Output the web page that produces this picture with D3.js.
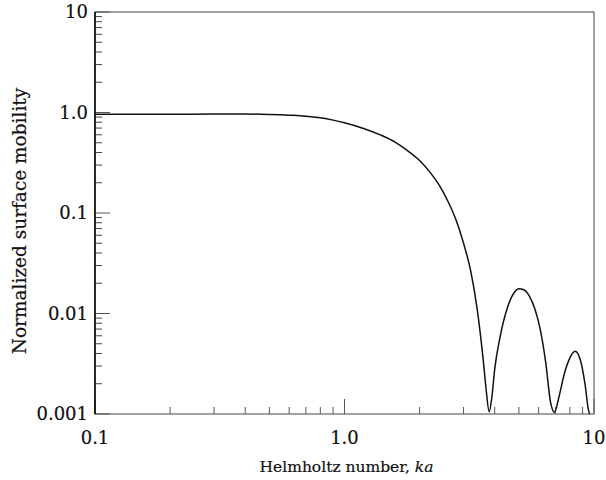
<!DOCTYPE html>
<html>
<head>
<meta charset="utf-8">
<script src="https://cdn.jsdelivr.net/npm/d3@7"></script>
<style>
  body { margin: 0; background: #fff; }
  text { font-family: "DejaVu Serif", "Liberation Serif", serif; fill: #111; stroke: #111; stroke-width: 0.2px; }
</style>
</head>
<body>
<div id="chart"></div>
<script>
// values
var kaValues = [0.1, 0.2, 0.3, 0.4, 0.5, 0.6, 0.7, 0.8, 0.9, 1.0, 1.2, 1.4, 1.6, 1.8, 2.0,
  2.2, 2.4, 2.6, 2.8, 3.0, 3.2, 3.4, 3.6, 3.7, 3.8, 3.9, 4.0, 4.2, 4.5, 4.8, 5.0, 5.2,
  5.5, 5.8, 6.1, 6.4, 6.7, 6.95, 7.2, 7.6, 8.0, 8.4, 8.8, 9.2, 9.5, 9.6];
var mobility = [0.96, 0.962, 0.965, 0.966, 0.956, 0.94, 0.92, 0.885, 0.84, 0.79, 0.69, 0.595,
  0.505, 0.413, 0.333, 0.255, 0.188, 0.13, 0.085, 0.05, 0.027, 0.0112, 0.0034, 0.0017, 0.00105,
  0.0015, 0.0028, 0.0058, 0.0115, 0.0163, 0.0176, 0.0173, 0.015, 0.011, 0.0068, 0.0033,
  0.0013, 0.00104, 0.0014, 0.0025, 0.0036, 0.0042, 0.0035, 0.002, 0.0011, 0.001];

var xTickValues = [0.1, 1, 10];
var xTickLabels = ["0.1", "1.0", "10"];
var yTickValues = [0.001, 0.01, 0.1, 1, 10];
var yTickLabels = ["0.001", "0.01", "0.1", "1.0", "10"];

var width = 606, height = 480;
var margin = {top: 12, right: 12, bottom: 66, left: 95};
var plotW = width - margin.left - margin.right;
var plotH = height - margin.top - margin.bottom;

var svg = d3.select("#chart").append("svg")
  .attr("width", width)
  .attr("height", height);

var g = svg.append("g")
  .attr("transform", "translate(" + margin.left + "," + margin.top + ")");

var x = d3.scaleLog().domain([0.1, 10]).range([0, plotW]);
var y = d3.scaleLog().domain([0.001, 10]).range([plotH, 0]);

// minor ticks for both log axes
function minorTicks(scale) {
  var out = [];
  scale.ticks().forEach(function(v) {
    var lg = Math.log10(v);
    if (Math.abs(lg - Math.round(lg)) > 1e-6) out.push(v);
  });
  return out;
}

g.append("clipPath").attr("id", "plotclip")
  .append("rect").attr("width", plotW).attr("height", plotH);

// frame
g.append("rect")
  .attr("width", plotW)
  .attr("height", plotH)
  .style("fill", "none")
  .style("stroke", "#444")
  .style("stroke-width", 1);

// x ticks (inside, pointing up)
g.append("g").selectAll("line.xminor")
  .data(minorTicks(x))
  .enter().append("line")
  .attr("x1", function(d) { return x(d); })
  .attr("x2", function(d) { return x(d); })
  .attr("y1", plotH)
  .attr("y2", plotH - 7)
  .style("stroke", "#555");

g.append("g").selectAll("line.xmajor")
  .data(xTickValues)
  .enter().append("line")
  .attr("x1", function(d) { return x(d); })
  .attr("x2", function(d) { return x(d); })
  .attr("y1", plotH)
  .attr("y2", plotH - 15)
  .style("stroke", "#555");

// y ticks (inside, pointing right)
g.append("g").selectAll("line.yminor")
  .data(minorTicks(y))
  .enter().append("line")
  .attr("x1", 0)
  .attr("x2", 7)
  .attr("y1", function(d) { return y(d); })
  .attr("y2", function(d) { return y(d); })
  .style("stroke", "#444");

g.append("g").selectAll("line.ymajor")
  .data(yTickValues)
  .enter().append("line")
  .attr("x1", 0)
  .attr("x2", 15)
  .attr("y1", function(d) { return y(d); })
  .attr("y2", function(d) { return y(d); })
  .style("stroke", "#555");

// left axis drawn darker
g.append("line")
  .attr("x1", 0).attr("x2", 0)
  .attr("y1", 0).attr("y2", plotH)
  .style("stroke", "#000")
  .style("stroke-width", 1.5);

// tick labels
g.append("g").selectAll("text")
  .data(xTickValues)
  .enter().append("text")
  .attr("x", function(d) { return x(d); })
  .attr("y", plotH + 30)
  .attr("text-anchor", "middle")
  .style("font-size", "18px")
  .text(function(d, i) { return xTickLabels[i]; });

g.append("g").selectAll("text")
  .data(yTickValues)
  .enter().append("text")
  .attr("x", -7)
  .attr("y", function(d) { return y(d); })
  .attr("dy", "0.35em")
  .attr("text-anchor", "end")
  .style("font-size", "18px")
  .text(function(d, i) { return yTickLabels[i]; });

// curve
var pts = kaValues.map(function(k, i) { return [k, mobility[i]]; });
var line = d3.line()
  .x(function(d) { return x(d[0]); })
  .y(function(d) { return y(d[1]); })
  .curve(d3.curveMonotoneX);

g.append("path")
  .datum(pts)
  .attr("clip-path", "url(#plotclip)")
  .attr("d", line)
  .style("fill", "none")
  .style("stroke", "#111")
  .style("stroke-width", 1.5);

// axis titles
var xt = svg.append("text")
  .attr("x", margin.left + plotW / 2 + 2)
  .attr("y", 472)
  .attr("text-anchor", "middle")
  .style("font-size", "15.5px");
xt.append("tspan").text("Helmholtz number, ");
xt.append("tspan").style("font-style", "italic").text("ka");

svg.append("text")
  .attr("transform", "translate(26," + (margin.top + plotH / 2 + 8) + ") rotate(-90)")
  .attr("text-anchor", "middle")
  .style("font-size", "18.5px")
  .text("Normalized surface mobility");
</script>
</body>
</html>
